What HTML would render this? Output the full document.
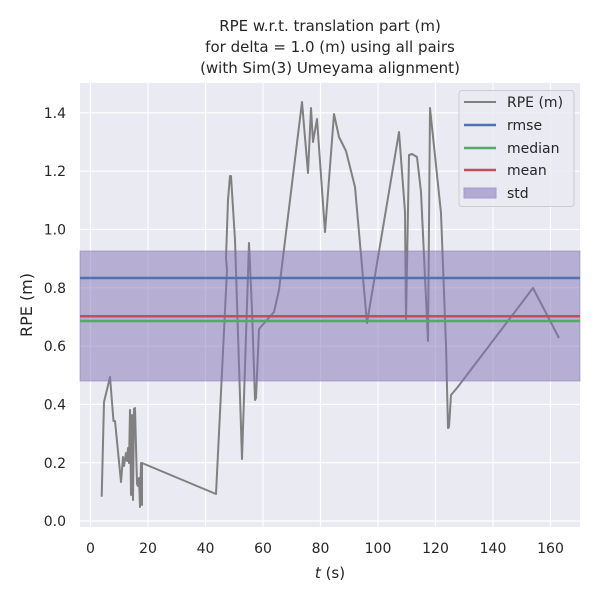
<!DOCTYPE html>
<html><head><style>body{margin:0;background:#fff}svg{display:block}text{font-family:"DejaVu Sans","Liberation Sans",sans-serif;fill:#262626}</style></head><body>
<svg width="600" height="600" viewBox="0 0 600 600">
<text x="330" y="31" font-size="15" text-anchor="middle">RPE w.r.t. translation part (m)</text>
<text x="330" y="52" font-size="15" text-anchor="middle">for delta = 1.0 (m) using all pairs</text>
<text x="330" y="73" font-size="15" text-anchor="middle">(with Sim(3) Umeyama alignment)</text>
<rect x="80" y="83" width="500" height="444" fill="#eaeaf2"/>
<g stroke="#fff" stroke-width="1.2">
<line x1="90.5" y1="83" x2="90.5" y2="527"/><line x1="148" y1="83" x2="148" y2="527"/><line x1="205.5" y1="83" x2="205.5" y2="527"/><line x1="263" y1="83" x2="263" y2="527"/><line x1="320.5" y1="83" x2="320.5" y2="527"/><line x1="378" y1="83" x2="378" y2="527"/><line x1="435.5" y1="83" x2="435.5" y2="527"/><line x1="493" y1="83" x2="493" y2="527"/><line x1="550.5" y1="83" x2="550.5" y2="527"/>
<line x1="80" y1="521" x2="580" y2="521"/><line x1="80" y1="462.7" x2="580" y2="462.7"/><line x1="80" y1="404.4" x2="580" y2="404.4"/><line x1="80" y1="346.1" x2="580" y2="346.1"/><line x1="80" y1="287.8" x2="580" y2="287.8"/><line x1="80" y1="229.5" x2="580" y2="229.5"/><line x1="80" y1="171.2" x2="580" y2="171.2"/><line x1="80" y1="112.9" x2="580" y2="112.9"/>
</g>
<polyline fill="none" stroke="#808080" stroke-width="2" stroke-linejoin="round" points="101.7,496.7 104,402 110,377 113.5,421 115,421 121,482 123,457 124,466 126,453 127,461 128,448 129,463 130,410 131,495 132,415 133,500 134,409 135,408 137,484 138,486 139,478 140,507 141,463 142,505 142,463 216,494 227,270 226,258 228,200 230,176 231,176 235,240 242,459 249,243 252,310 255,400 256,398 259,329 274,312 279,290 302,102 308,173 311,108 313,142 317,119 325,232 334,114 339,137 346,151 355,187 367,323 399,132 405,212 406,320 409,155 412,154 417,157 421,192 428,341 430,108 441,213 446,345 448,428 449,427 451,395 457,388 533,288 559,338"/>
<rect x="80" y="251" width="500" height="130" fill="#8172b3" fill-opacity="0.5" stroke="#8172b3" stroke-opacity="0.5"/>
<line x1="80" y1="278" x2="580" y2="278" stroke="#4c72b0" stroke-width="2.5"/>
<line x1="80" y1="321" x2="580" y2="321" stroke="#55a868" stroke-width="2.5"/>
<line x1="80" y1="316.3" x2="580" y2="316.3" stroke="#c44e52" stroke-width="2.5"/>
<g font-size="14" text-anchor="middle">
<text x="90.5" y="553">0</text><text x="148" y="553">20</text><text x="205.5" y="553">40</text><text x="263" y="553">60</text><text x="320.5" y="553">80</text><text x="378" y="553">100</text><text x="435.5" y="553">120</text><text x="493" y="553">140</text><text x="550.5" y="553">160</text>
</g>
<g font-size="14" text-anchor="end">
<text x="66" y="526">0.0</text><text x="66" y="468">0.2</text><text x="66" y="409.5">0.4</text><text x="66" y="351">0.6</text><text x="66" y="293">0.8</text><text x="66" y="234.5">1.0</text><text x="66" y="176">1.2</text><text x="66" y="118">1.4</text>
</g>
<text x="330" y="578" font-size="15" text-anchor="middle"><tspan font-style="italic">t</tspan> (s)</text>
<text transform="translate(32,305) rotate(-90)" font-size="16" text-anchor="middle">RPE (m)</text>
<rect x="459" y="90.5" width="115" height="116" rx="3" fill="#eaeaf2" fill-opacity="0.8" stroke="#cccccc"/>
<line x1="464" y1="102" x2="496" y2="102" stroke="#808080" stroke-width="2"/>
<line x1="464" y1="125" x2="496" y2="125" stroke="#4c72b0" stroke-width="2.5"/>
<line x1="464" y1="148" x2="496" y2="148" stroke="#55a868" stroke-width="2.5"/>
<line x1="464" y1="170" x2="496" y2="170" stroke="#c44e52" stroke-width="2.5"/>
<rect x="464" y="188" width="32" height="10" fill="#b3aad4" stroke="#a59bcc"/>
<g font-size="14"><text x="507" y="107">RPE (m)</text><text x="507" y="130">rmse</text><text x="507" y="153">median</text><text x="507" y="175">mean</text><text x="507" y="198">std</text></g>
</svg>
</body></html>
